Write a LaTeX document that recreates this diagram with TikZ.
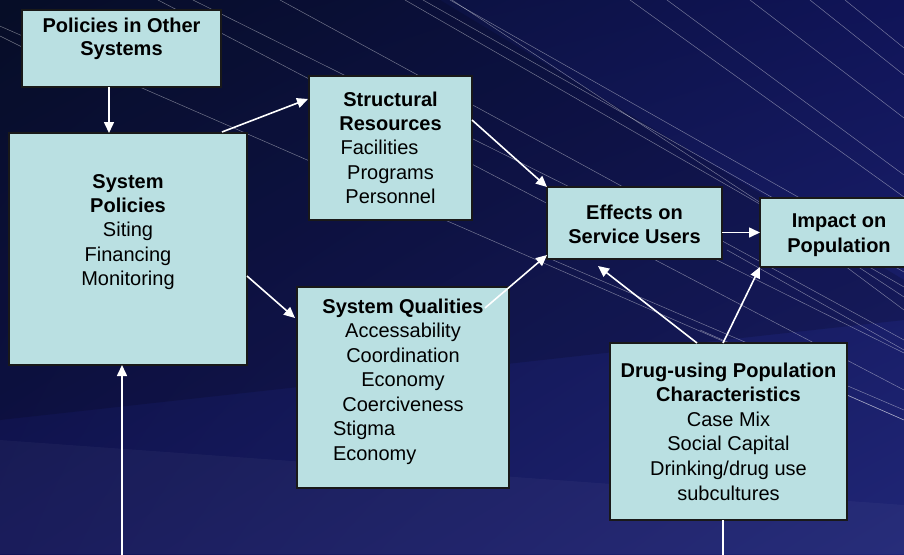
\documentclass[tikz,border=0pt]{standalone}
\usepackage{fontspec}
\setmainfont{Liberation Sans}
\usetikzlibrary{arrows.meta,calc,shadings}
\definecolor{boxfill}{RGB}{186,224,226}
\definecolor{bgUL}{RGB}{8,16,46}
\definecolor{bgUR}{RGB}{16,20,88}
\definecolor{bgLL}{RGB}{18,20,86}
\definecolor{bgLR}{RGB}{32,38,118}
\newcommand\boxlines[1]{\begin{tabular}[t]{@{}c@{}}#1\end{tabular}}
\begin{document}
\begin{tikzpicture}[x=1pt,y=-1pt,
  box/.style={draw=black!90, line width=1.4pt, fill=boxfill, anchor=north west, inner sep=0pt, outer sep=0pt},
  txt/.style={inner sep=0pt, anchor=base, font=\fontsize{20}{24.4}\selectfont, text=black},
  conn/.style={draw=white, line width=1.6pt, -{Triangle[length=11pt,width=10pt]}},
  plainline/.style={draw=white, line width=1.6pt},
  bgline/.style={draw=white, opacity=0.42, line width=0.5pt}]
\useasboundingbox (0,0) rectangle (904,554);
\begin{scope}
\clip (0,0) rectangle (904,554);
% background
\shade[upper left=bgUL, upper right=bgUR, lower left=bgLL, lower right=bgLR] (0,0) rectangle (904,554);
\fill[black, opacity=0.15] (0,0) -- (440,0) -- (904,280) -- (904,320) -- (0,420) -- cycle;
\fill[white, opacity=0.035] (0,440) -- (904,505) -- (904,554) -- (0,554) -- cycle;
\draw[bgline] (193,0) -- (904,353);
\draw[bgline] (158,0) -- (904,390);
\draw[bgline] (280,0) -- (904,340);
\draw[bgline] (423,0) -- (904,272);
\draw[bgline] (450,0) -- (904,257);
\draw[bgline] (405,0) -- (904,287);
\draw[bgline] (452,0) -- (904,297);
\draw[bgline] (630,0) -- (904,197);
\draw[bgline] (667,0) -- (904,175);
\draw[bgline] (750,0) -- (904,118);
\draw[bgline] (810,0) -- (904,75);
\draw[bgline] (845,0) -- (904,48);
\draw[bgline] (-60,0) -- (904,420);
\draw[bgline] (0,36) -- (60,66);
\draw[bgline] (553,260) -- (904,410);
\draw[bgline] (727,250) -- (904,350);
\draw[bgline] (790,225) -- (904,310);
\draw[bgline] (700,330) -- (904,420);
% boxes
\node[box, minimum width=199pt, minimum height=77pt]  (po) at (22,10) {};
\node[box, minimum width=238pt, minimum height=232pt] (sp) at (9,133) {};
\node[box, minimum width=163pt, minimum height=144pt] (sr) at (309,76) {};
\node[box, minimum width=175pt, minimum height=72pt]  (es) at (547,187) {};
\node[box, minimum width=170pt, minimum height=69pt]  (ip) at (760,198) {};
\node[box, minimum width=212pt, minimum height=201pt] (sq) at (297,287) {};
\node[box, minimum width=237pt, minimum height=177pt] (dp) at (610,343) {};
% connectors
\draw[conn] ($(po.south)+(-12.5,0)$) -- ($(sp.north)+(-19,0)$);
\draw[conn] ($(sp.north)+(94,-1)$) -- ($(sr.west)+(-1,-49)$);
\draw[conn] ($(sp.east)+(0,27)$) -- ($(sq.west)+(-2,-69.5)$);
\draw[conn] ($(sr.east)+(0,-28)$) -- (es.north west);
\draw[conn] ($(sq.north east)+(-24,21)$) -- ($(es.west)+(0,32)$);
\draw[conn] (es.east |- ip.west) -- (ip.west);
\draw[conn] ($(dp.north)+(-31.5,0)$) -- ($(es.south)+(-36.5,7)$);
\draw[conn] ($(dp.north)+(-5.5,0)$) -- (ip.south west);
\coordinate (bl) at (122,560);
\coordinate (br) at (723,560);
\draw[conn] (bl) -- ($(sp.south)+(-6,0)$);
\draw[plainline] ($(dp.south)+(-5.5,0)$) -- (br);
% texts
\node[txt, font=\fontsize{20}{23.5}\selectfont] (po-t) at (121.5,32) {\boxlines{\textbf{Policies in Other}\\\textbf{Systems}}};
\node[txt] (sp-t) at (128,188) {\boxlines{\textbf{System}\\\textbf{Policies}\\Siting\\Financing\\Monitoring}};
\node[txt] (sr-t) at (390.5,106) {\boxlines{\textbf{Structural}\\\textbf{Resources}\\Facilities\hspace*{22pt}\\Programs\\Personnel}};
\node[txt] (es-t) at (634.5,219) {\boxlines{\textbf{Effects on}\\\textbf{Service Users}}};
\node[txt, font=\fontsize{20}{25}\selectfont] (ip-t) at (839,227) {\boxlines{\textbf{Impact on}\\\textbf{Population}}};
\node[txt, font=\fontsize{20}{24.5}\selectfont] (sq-t) at (403,313) {\boxlines{\textbf{System Qualities}\\Accessability\\Coordination\\Economy\\Coerciveness\\\makebox[140pt][l]{Stigma}\\\makebox[140pt][l]{Economy}}};
\node[txt, font=\fontsize{20}{24.6}\selectfont] (dp-t) at (728.5,377) {\boxlines{\textbf{Drug-using Population}\\\textbf{Characteristics}\\Case Mix\\Social Capital\\Drinking/drug use\\subcultures}};
\end{scope}
\end{tikzpicture}
\end{document}
